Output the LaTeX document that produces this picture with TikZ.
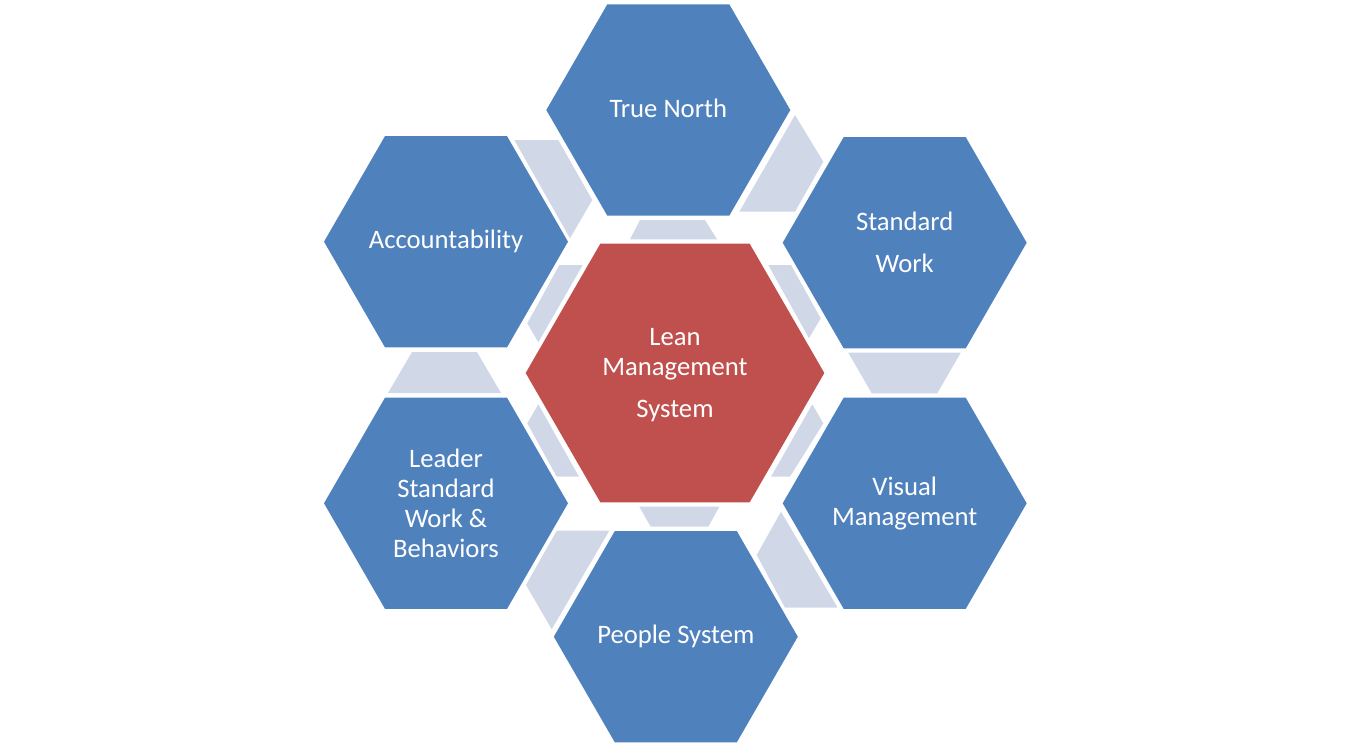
\documentclass[tikz,border=0pt]{standalone}
\usepackage{fontspec}
\setmainfont{Carlito}
\usetikzlibrary{shapes.geometric}
\definecolor{hexblue}{HTML}{4F81BD}
\definecolor{hexred}{HTML}{C0504D}
\definecolor{linkfill}{HTML}{D0D8E8}
\begin{document}
\begin{tikzpicture}[x=0.75pt,y=-0.75pt,
  hexa/.style={regular polygon, regular polygon sides=6, minimum size=183pt,
    inner sep=0pt, fill=hexblue},
  hexcenter/.style={hexa, minimum size=224pt, fill=hexred},
  hextext/.style={text=white, align=center, inner sep=0pt,
    font=\fontsize{20}{22.5}\selectfont},
  link/.style={fill=linkfill}]
\useasboundingbox (0,0) rectangle (1350,746);
% light connector pieces
\fill[link] (640,220) -- (705,220) -- (717,239.3) -- (630,239.3) -- cycle;
\fill[link] (795,115) -- (823.3,161.7) -- (795,211.7) -- (739.3,211.7) -- cycle;
\fill[link] (768.3,265) -- (791,265) -- (820.7,318.3) -- (809,338.3) -- cycle;
\fill[link] (848.3,352.7) -- (960.7,352.7) -- (937.3,393.3) -- (871.7,393.3) -- cycle;
\fill[link] (812.3,404.3) -- (823.3,423.3) -- (790,476.7) -- (771,476.7) -- cycle;
\fill[link] (781,511.7) -- (756.7,555) -- (785,607.7) -- (837.7,607.7) -- cycle;
\fill[link] (639.3,506.7) -- (719.3,506.7) -- (708.3,526.7) -- (650.7,526.7) -- cycle;
\fill[link] (556.7,530.7) -- (609.3,530.7) -- (551.7,629.3) -- (526,585) -- cycle;
\fill[link] (538.3,404.3) -- (527.3,423.3) -- (556.7,476.7) -- (579,476.7) -- cycle;
\fill[link] (412,352) -- (477,352) -- (501,393) -- (388,393) -- cycle;
\fill[link] (559.3,265) -- (582.7,265) -- (538.3,342.3) -- (527.3,323.3) -- cycle;
\fill[link] (514.3,140) -- (558.3,140) -- (592.3,200) -- (570,238.3) -- cycle;
% hexagons
\node[hexa] (tn) at (668.3,110) {};
\node[hexa] (sw) at (904.7,242.7) {};
\node[hexa] (vm) at (904.7,503.3) {};
\node[hexa] (ps) at (675.8,636.7) {};
\node[hexa] (ls) at (446,503.3) {};
\node[hexa] (ac) at (446,241.7) {};
\node[hexcenter] (lms) at (675,373) {};
% texts
\node[hextext] (tn-t) at ([yshift=1.5pt]tn.center) {True North};
\node[hextext] (sw-t) at (sw.center) {Standard\\[9pt]Work};
\node[hextext] (vm-t) at (vm.center) {Visual\\Management};
\node[hextext] (ps-t) at (ps.center) {People System};
\node[hextext] (ls-t) at (ls.center) {Leader\\Standard\\Work \&\\Behaviors};
\node[hextext] (ac-t) at (ac.center) {Accountability};
\node[hextext] (lms-t) at ([yshift=-1.5pt]lms.center) {Lean\\Management\\[8.5pt]System};
\end{tikzpicture}
\end{document}
